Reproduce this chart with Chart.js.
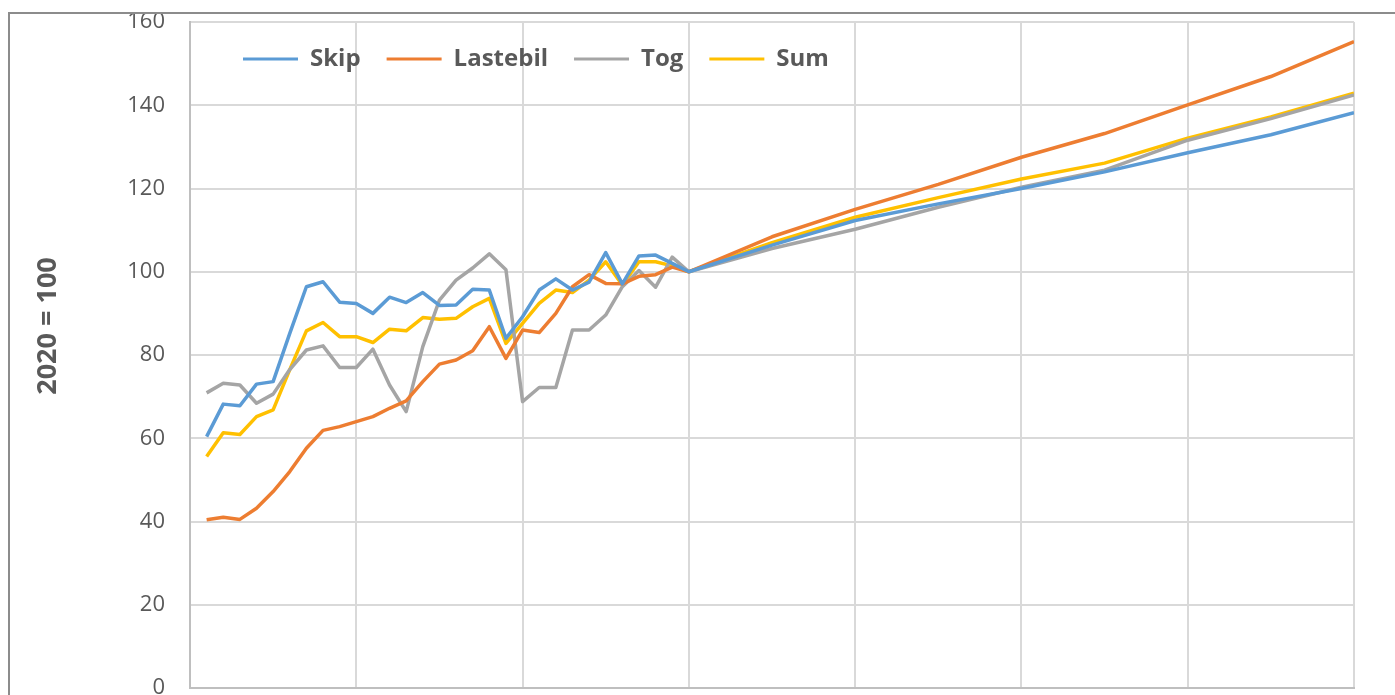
<!DOCTYPE html>
<html>
<head>
<meta charset="utf-8">
<script src="https://cdn.jsdelivr.net/npm/chart.js@4"></script>
<style>
  html, body { margin: 0; padding: 0; background: #fff; overflow: hidden; }
  #frame {
    position: absolute; left: 8px; top: 12px; width: 1400px; height: 700px;
    border-left: 2px solid #8c8c8c; border-top: 2px solid #8c8c8c;
    overflow: hidden;
  }
  #chart { position: absolute; left: -10px; top: -14px; }
</style>
</head>
<body>
<div id="frame"><canvas id="chart" width="1395" height="740"></canvas></div>
<script>
// Godstransport, indeks 2020 = 100. Historikk hvert aar, framskriving hvert 5. aar.

var histYears = [1991,1992,1993,1994,1995,1996,1997,1998,1999,2000,
                 2001,2002,2003,2004,2005,2006,2007,2008,2009,2010,
                 2011,2012,2013,2014,2015,2016,2017,2018,2019,2020];
var projYears = [2025,2030,2035,2040,2045,2050,2055,2060];

var skipHist = [60.4,68.2,67.8,73.0,73.6,85.2,96.4,97.6,92.7,92.4,
                90.0,93.9,92.6,95.0,91.9,92.0,95.8,95.6,84.0,89.2,
                95.6,98.3,95.6,97.5,104.6,97.1,103.8,104.0,102.0,100];
var lastebilHist = [40.4,41.0,40.5,43.2,47.2,52.0,57.6,61.9,62.8,64.0,
                    65.2,67.2,69.0,73.6,77.8,78.8,81.0,86.8,79.2,86.0,
                    85.4,90.0,96.4,99.3,97.2,97.1,98.9,99.3,101.1,100];
var togHist = [70.9,73.2,72.8,68.4,70.6,76.5,81.2,82.2,77.0,77.0,
               81.4,72.8,66.4,82.0,93.2,98.0,100.9,104.3,100.5,68.8,
               72.2,72.2,86.0,86.0,89.6,96.4,100.3,96.3,103.5,100];
var sumHist = [55.6,61.3,60.9,65.2,66.8,76.5,85.8,87.8,84.4,84.4,
               83.0,86.2,85.8,89.0,88.6,88.8,91.6,93.6,82.8,87.6,
               92.4,95.6,95.0,98.0,102.4,96.8,102.4,102.4,101.4,100];

var skipProj = [106.4,112.3,116.3,120.0,124.0,128.6,132.9,138.2];
var lastebilProj = [108.4,115.0,121.0,127.5,133.2,140.1,146.9,155.3];
var togProj = [105.6,110.2,115.5,120.3,124.4,131.6,136.8,142.5];
var sumProj = [107.0,113.1,117.8,122.3,126.1,132.1,137.2,142.9];

var yTicks = [0,20,40,60,80,100,120,140,160];
var yTitle = '2020 = 100';

var textColor = '#595959';
var gridColor = '#d9d9d9';

function toPoints(hist, proj) {
    var pts = histYears.map(function (yr, i) { return {x: yr, y: hist[i]}; });
    return pts.concat(projYears.map(function (yr, i) { return {x: yr, y: proj[i]}; }));
}

function lineSet(label, color, hist, proj) {
    return {
        label: label,
        data: toPoints(hist, proj),
        borderColor: color,
        backgroundColor: color,
        borderWidth: 3.5,
        borderJoinStyle: 'round',
        pointRadius: 0,
        tension: 0
    };
}

// y-aksetittel, og forklaringen som en rad inne i plottet
var extras = {
    id: 'extras',
    beforeLayout: function (chart) {
        if (chart.legend) chart.legend.isHorizontal = function () { return true; };
    },
    afterLayout: function (chart) {
        chart.legend.left = chart.chartArea.left + 27;
        chart.legend.top = chart.chartArea.top - 1;
    },
    afterDraw: function (chart) {
        var ctx = chart.ctx;
        ctx.save();
        ctx.translate(48, 326);
        ctx.rotate(-Math.PI / 2);
        ctx.font = 'bold 27px "Open Sans"';
        ctx.fillStyle = textColor;
        ctx.textAlign = 'center';
        ctx.textBaseline = 'middle';
        ctx.fillText(yTitle, 0, 0);
        ctx.restore();
    }
};

var ctx = document.getElementById('chart').getContext('2d');
var myChart = new Chart(ctx, {
    type: 'line',
    data: {
        datasets: [
            lineSet('Skip', '#5b9bd5', skipHist, skipProj),
            lineSet('Lastebil', '#ed7d31', lastebilHist, lastebilProj),
            lineSet('Tog', '#a5a5a5', togHist, togProj),
            lineSet('Sum', '#ffc000', sumHist, sumProj)
        ]
    },
    options: {
        responsive: false,
        animation: false,
        devicePixelRatio: 1,
        layout: { padding: { left: 0, top: 22, right: 41, bottom: 0 } },
        plugins: {
            tooltip: { enabled: false },
            legend: {
                position: 'chartArea',
                align: 'start',
                labels: {
                    boxWidth: 55,
                    boxHeight: 3,
                    padding: 26,
                    color: textColor,
                    font: { family: 'Open Sans', size: 24, weight: 'bold' },
                    generateLabels: function (chart) {
                        var items = Chart.defaults.plugins.legend.labels.generateLabels(chart);
                        items.forEach(function (it) { it.lineWidth = 0; });
                        return items;
                    }
                }
            }
        },
        scales: {
            x: {
                type: 'linear',
                min: 1990,
                max: 2060,
                ticks: {
                    stepSize: 10,
                    padding: 0,
                    color: textColor,
                    font: { family: 'Open Sans', size: 22 },
                    callback: function (v) { return String(v); }
                },
                grid: { color: gridColor, lineWidth: 2, tickLength: 30, tickColor: 'rgba(0,0,0,0)' },
                border: { color: '#bfbfbf', width: 2 },
                afterFit: function (scale) { scale.height = 52; }
            },
            y: {
                min: 0,
                max: 160,
                afterBuildTicks: function (scale) {
                    scale.ticks = yTicks.map(function (v) { return {value: v}; });
                },
                ticks: {
                    color: textColor,
                    padding: 3,
                    font: { family: 'Open Sans', size: 22 }
                },
                grid: { color: gridColor, lineWidth: 2, tickLength: 22, tickColor: 'rgba(0,0,0,0)' },
                border: { color: '#bfbfbf', width: 2 },
                afterFit: function (scale) { scale.width = 190; }
            }
        }
    },
    plugins: [extras]
});
</script>
</body>
</html>
